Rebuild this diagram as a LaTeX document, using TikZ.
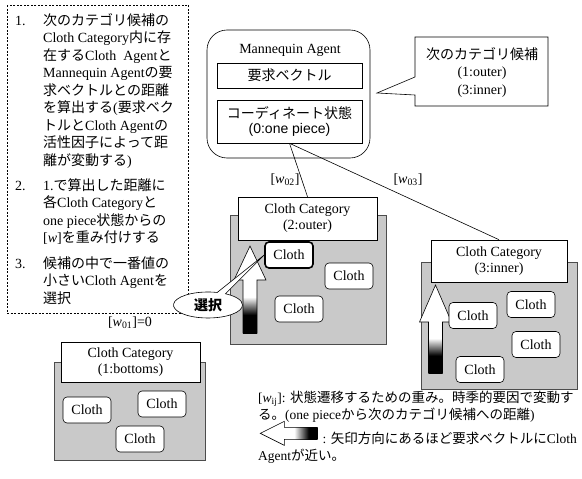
\documentclass[tikz,border=0pt]{standalone}
\usepackage{fontspec}
\setmainfont{Liberation Serif}
\newfontfamily\jp{Noto Sans CJK JP}
\newfontfamily\arial{Liberation Sans}
\usetikzlibrary{shapes.callouts,shapes.geometric,calc}
\definecolor{catgray}{gray}{0.79}
\pgfdeclareverticalshading{shaftshade}{100bp}{color(0bp)=(black); color(42bp)=(black); color(59bp)=(white); color(100bp)=(white)}
\pgfdeclarehorizontalshading{legshade}{100bp}{color(0bp)=(white); color(40bp)=(white); color(62bp)=(black); color(100bp)=(black)}
\newcommand\myuparrow[4]{% x center, tip y, head base y, bottom y
  \path[fill=white] (#1,#2) -- ({#1+16},#3) -- ({#1+7},#3) -- ({#1+7},#4) -- ({#1-7},#4) -- ({#1-7},#3) -- ({#1-16},#3) -- cycle;
  \shade[shading=shaftshade] ({#1-7},#3) rectangle ({#1+7},#4);
  \draw[line width=0.6pt] (#1,#2) -- ({#1+16},#3) -- ({#1+7},#3) -- ({#1+7},#4) -- ({#1-7},#4) -- ({#1-7},#3) -- ({#1-16},#3) -- cycle;}
\tikzset{
  txt/.style={inner sep=0pt, font=\fontsize{14}{17}\selectfont},
  ln/.style={txt, anchor=base west},
  lg/.style={inner sep=0pt, anchor=base west, font=\fontsize{13.5}{16}\selectfont},
  cloth/.style={draw, line width=0.6pt, rounded corners=4pt, fill=white, minimum width=48pt, minimum height=26pt, inner sep=0pt, font=\fontsize{14}{16}\selectfont},
  clothsel/.style={cloth, line width=1.6pt},
  header/.style={draw, line width=0.6pt, fill=white, align=center, inner sep=0pt, font=\fontsize{14}{16}\selectfont},
  catbg/.style={fill=catgray, draw=black!70, line width=0.4pt},
  subbox/.style={draw, line width=0.6pt, inner sep=0pt, align=center, minimum width=145pt},
}
\begin{document}
\begin{tikzpicture}[x=1pt,y=-1pt]
\useasboundingbox (0,0) rectangle (582,479);
% ---- left dashed box ----
\draw[line width=0.6pt, dash pattern=on 2pt off 1.5pt] (7,5) rectangle (188,313);
\node[ln] (n1) at (15,25) {1.};
\node[ln] (a1) at (43,25) {\jp 次のカテゴリ候補の};
\node[ln] (a2) at (43,42.5) {Cloth Category{\jp 内に存}};
\node[ln] (a3) at (43,60) {{\jp 在する}Cloth\ \ Agent{\jp と}};
\node[ln] (a4) at (43,77.5) {Mannequin Agent{\jp の要}};
\node[ln] (a5) at (43,95) {\jp 求ベクトルとの距離};
\node[ln] (a6) at (43,112.5) {{\jp を算出する}({\jp 要求ベク}};
\node[ln] (a7) at (43,130) {{\jp トルと}Cloth Agent{\jp の}};
\node[ln] (a8) at (43,147.5) {\jp 活性因子によって距};
\node[ln] (a9) at (43,165) {{\jp 離が変動する})};
\node[ln] (n2) at (15,190) {2.};
\node[ln] (b1) at (43,190) {1.{\jp で算出した距離に}};
\node[ln] (b2) at (43,207.5) {{\jp 各}Cloth Category{\jp と}};
\node[ln] (b3) at (43,225) {one piece{\jp 状態からの}};
\node[ln] (b4) at (43,242.5) {[{\itshape w}]{\jp を重み付けする}};
\node[ln] (n3) at (15,268) {3.};
\node[ln] (c1) at (43,268) {\jp 候補の中で一番値の};
\node[ln] (c2) at (43,285.5) {{\jp 小さい}Cloth Agent{\jp を}};
\node[ln] (c3) at (43,303) {\jp 選択};
% ---- Mannequin Agent ----
\node[draw, line width=0.6pt, rounded corners=20pt, minimum width=163pt, minimum height=128pt] (mann) at (288.5,94) {};
\node[txt] (mtitle) at (290,50) {Mannequin Agent};
\node[subbox, minimum height=25pt, font=\fontsize{14}{16}\selectfont\jp] (req) at (289.5,75.5) {要求ベクトル};
\node[subbox, minimum height=43pt, font=\fontsize{14}{15}\selectfont] (coord) at (289.5,121.5) {{\jp コーディネート状態}\\{\arial (0:one piece)}};
% ---- callout ----
\draw[line width=0.6pt, fill=white] (415,37) -- (548,37) -- (548,106) -- (415,106) -- (415,95) -- (377,93) -- (415,77) -- cycle;
\node[txt, align=center, font=\fontsize{14}{17.5}\selectfont] (cand) at (482,72.5) {{\jp 次のカテゴリ候補}\\(1:outer)\\(3:inner)};
% ---- category 2 ----
\path[catbg] (230,215) rectangle (386,344);
\node[header, minimum width=139pt, minimum height=43pt] (h2) at (307.5,218.5) {Cloth Category\\(2:outer)};
\myuparrow{250}{246}{280}{333}
\node[clothsel] (c21) at (289,255) {Cloth};
\node[cloth] (c22) at (349,276) {Cloth};
\node[cloth] (c23) at (299,309) {Cloth};
% ---- category 3 ----
\path[catbg] (421,262) rectangle (577,389);
\node[header, minimum width=136pt, minimum height=42pt] (h3) at (499,261) {Cloth Category\\(3:inner)};
\myuparrow{435.5}{285}{322}{373}
\node[cloth] (c31) at (473,315.5) {Cloth};
\node[cloth] (c32) at (531,304.5) {Cloth};
\node[cloth] (c33) at (536,344.5) {Cloth};
\node[cloth] (c34) at (480,369.5) {Cloth};
% ---- category 1 ----
\path[catbg] (54,362) rectangle (205,460);
\node[header, minimum width=139pt, minimum height=40pt] (h1) at (130.5,362) {Cloth Category\\(1:bottoms)};
\node[cloth] (c11) at (87,410) {Cloth};
\node[cloth] (c12) at (162,404) {Cloth};
\node[cloth] (c13) at (140,439) {Cloth};
% ---- connectors ----
\draw[line width=0.6pt] (coord.south) -- (h2.north);
\draw[line width=0.6pt] (coord.south) -- (h3.north);
\node[txt] (w02) at (285,180) {[{\itshape w}\textsubscript{02}]};
\node[txt] (w03) at (408,180) {[{\itshape w}\textsubscript{03}]};
\node[txt] (w01) at (130,323) {[{\itshape w}\textsubscript{01}]=0};
% ---- select callout ----
\node[ellipse callout, draw, line width=0.6pt, fill=white, minimum width=69pt, minimum height=26pt, inner sep=0pt,
      callout absolute pointer={(c21.west)}, font=\fontsize{14}{16}\selectfont\jp\bfseries] (sel) at (208,305) {選択};
% ---- legend ----
\node[lg] (l1) at (258,402) {[{\itshape w}\textsubscript{ij}]: {\jp 状態遷移するための重み。時季的要因で変動す}};
\node[lg] (l2) at (258,419) {{\jp る。}(one piece{\jp から次のカテゴリ候補への距離})};
\node[lg, anchor=base east] (l3) at (577,443) {: {\jp 矢印方向にあるほど要求ベクトルに}Cloth};
\node[lg] (l4) at (258,460) {Agent{\jp が近い。}};
\coordinate (lgend) at ($(l3.west)+(-5,-4.5)$);
\path[fill=white] ($(lgend)+(-33,-6)$) -- ++(0,-6) -- ($(lgend)+(-57,0)$) -- ($(lgend)+(-33,12)$) -- ++(0,-6) -- ($(lgend)+(0,6)$) -- ($(lgend)+(0,-6)$) -- cycle;
\shade[shading=legshade] ($(lgend)+(-33,-6)$) rectangle ($(lgend)+(0,6)$);
\draw[line width=0.6pt] ($(lgend)+(-33,-6)$) -- ($(lgend)+(-33,-12)$) -- ($(lgend)+(-57,0)$) -- ($(lgend)+(-33,12)$) -- ($(lgend)+(-33,6)$) -- ($(lgend)+(0,6)$) -- ($(lgend)+(0,-6)$) -- cycle;
\end{tikzpicture}
\end{document}
